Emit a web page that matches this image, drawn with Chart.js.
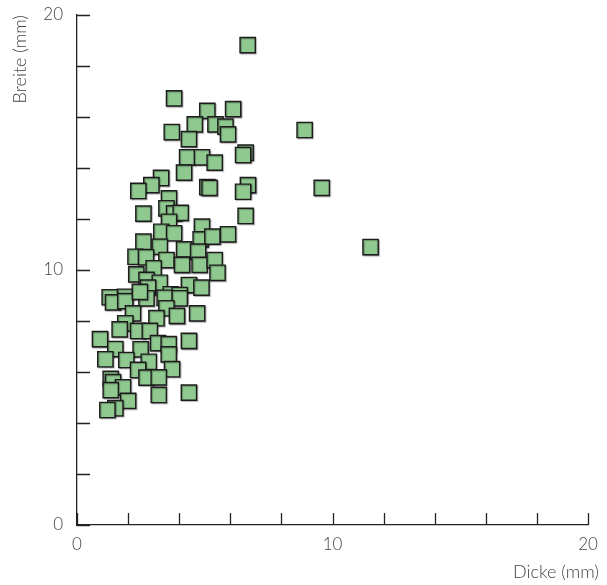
<!DOCTYPE html>
<html>
<head>
<meta charset="utf-8">
<title>Breite vs Dicke</title>
<script src="https://cdn.jsdelivr.net/npm/chart.js@4/dist/chart.umd.min.js"></script>
<style>
  html, body { margin: 0; padding: 0; background: #fff; }
  #wrap { width: 607px; height: 585px; }
</style>
</head>
<body>
<div id="wrap"><canvas id="myChart" width="607" height="585"></canvas></div>
<script>
'use strict';
// data (mm)
const dickeValues = [
  3.80, 5.10, 6.11, 4.61, 5.42, 5.81, 5.91, 3.71, 4.38, 6.60,
  6.50, 4.31, 4.89, 5.39, 4.19, 3.29, 2.91, 2.40, 5.10, 5.19,
  6.69, 6.50, 3.60, 2.60, 3.50, 3.80, 4.06, 3.60, 6.60, 4.89,
  3.30, 3.80, 2.60, 3.24, 4.84, 5.30, 5.91, 4.19, 4.74, 2.29,
  2.70, 3.50, 4.11, 4.80, 5.39, 5.50, 2.32, 3.00, 2.72, 3.24,
  2.78, 4.38, 4.87, 3.67, 4.02, 1.87, 1.28, 1.41, 1.89, 2.72,
  3.43, 4.02, 3.50, 2.19, 3.11, 3.91, 4.70, 1.89, 1.67, 2.39,
  2.85, 0.90, 3.17, 3.59, 4.38, 1.50, 2.49, 3.59, 1.93, 1.11,
  2.81, 3.72, 2.39, 2.72, 3.20, 1.32, 1.41, 1.80, 1.32, 2.00,
  3.20, 4.38, 1.50, 1.19, 2.46, 6.68, 8.91, 9.58, 11.49
];
const breiteValues = [
  16.73, 16.24, 16.31, 15.71, 15.71, 15.62, 15.32, 15.41, 15.13, 14.60,
  14.51, 14.42, 14.42, 14.21, 13.82, 13.61, 13.33, 13.10, 13.25, 13.22,
  13.33, 13.07, 12.81, 12.21, 12.42, 12.22, 12.24, 11.89, 12.12, 11.70,
  11.50, 11.44, 11.11, 10.91, 11.20, 11.31, 11.40, 10.81, 10.72, 10.52,
  10.50, 10.39, 10.20, 10.20, 10.39, 9.89, 9.83, 10.07, 9.61, 9.50,
  9.31, 9.41, 9.31, 9.05, 9.02, 8.95, 8.93, 8.73, 8.78, 8.89,
  8.91, 8.89, 8.50, 8.30, 8.11, 8.20, 8.30, 7.91, 7.67, 7.61,
  7.61, 7.29, 7.13, 7.09, 7.22, 6.90, 6.89, 6.69, 6.47, 6.50,
  6.40, 6.11, 6.08, 5.78, 5.79, 5.73, 5.60, 5.40, 5.29, 4.87,
  5.10, 5.19, 4.58, 4.51, 9.14, 18.82, 15.49, 13.22, 10.90
];
const tickLabels = [0, 10, 20]; // only these ticks get a label
const xTitle = 'Dicke (mm)';
const yTitle = 'Breite (mm)';

const textFont = { family: 'Lato', size: 17, weight: '300' };
const titleFont = { family: 'Lato', size: 18, weight: '300' };
const textColor = '#444';

// build the point list
const points = [];
for (let i = 0; i < dickeValues.length; i++) {
  points.push({ x: dickeValues[i], y: breiteValues[i] });
}

// short tick marks drawn inside the plot area, plus the x title
const innerTicks = {
  id: 'innerTicks',
  afterDraw(chart) {
    const ctx = chart.ctx;
    const xs = chart.scales.x;
    const ys = chart.scales.y;
    ctx.save();
    ctx.strokeStyle = '#222';
    ctx.lineWidth = 1.3;
    ctx.beginPath();
    xs.ticks.forEach(function (t) {
      const px = Math.round(xs.getPixelForValue(t.value)) + 0.5;
      ctx.moveTo(px, ys.bottom);
      ctx.lineTo(px, ys.bottom - 12);
    });
    ys.ticks.forEach(function (t) {
      const py = Math.round(ys.getPixelForValue(t.value)) + 0.5;
      ctx.moveTo(xs.left, py);
      ctx.lineTo(xs.left + 13, py);
    });
    ctx.stroke();

    // x title sits a bit past the end of the axis
    ctx.fillStyle = textColor;
    ctx.font = titleFont.weight + ' ' + titleFont.size + 'px ' + titleFont.family;
    ctx.textAlign = 'right';
    ctx.textBaseline = 'middle';
    ctx.fillText(xTitle, xs.right + 11, 572);
    ctx.restore();
  }
};

// faint shadow behind the squares
const pointShadow = {
  id: 'pointShadow',
  beforeDatasetsDraw(chart) {
    const ctx = chart.ctx;
    ctx.save();
    ctx.shadowColor = 'rgba(0, 0, 0, 0.3)';
    ctx.shadowOffsetX = 1;
    ctx.shadowOffsetY = 1;
    ctx.shadowBlur = 1;
  },
  afterDatasetsDraw(chart) {
    chart.ctx.restore();
  }
};

function tickCallback(value) {
  return tickLabels.includes(value) ? String(value) : '';
}

const ctx = document.getElementById('myChart').getContext('2d');
new Chart(ctx, {
  type: 'scatter',
  data: {
    datasets: [
      {
        label: 'Breite',
        data: points,
        pointStyle: 'rect',
        pointRadius: 10.8,
        pointHoverRadius: 10.8,
        backgroundColor: 'rgb(143, 201, 143)',
        borderColor: '#1c1c1c',
        borderWidth: 1.4,
      },
    ],
  },
  options: {
    responsive: false,
    animation: false,
    events: [],
    layout: { padding: { left: 0, right: 19, top: 15, bottom: 0 } },
    plugins: {
      legend: { display: false },
      tooltip: { enabled: false },
    },
    scales: {
      x: {
        type: 'linear',
        min: 0,
        max: 20,
        grid: { display: false, drawTicks: false },
        border: { display: true, color: '#222', width: 1.3 },
        ticks: {
          stepSize: 2,
          autoSkip: false,
          maxRotation: 0,
          padding: 9,
          color: textColor,
          font: textFont,
          callback: tickCallback,
        },
        title: { display: false },
        afterFit(scale) {
          scale.height = 60;
          scale.paddingLeft = 0;
          scale.paddingRight = 0;
        },
      },
      y: {
        type: 'linear',
        min: 0,
        max: 20,
        grid: { display: false, drawTicks: false },
        border: { display: true, color: '#222', width: 1.3 },
        ticks: {
          stepSize: 2,
          autoSkip: false,
          padding: 14,
          color: textColor,
          font: textFont,
          callback: tickCallback,
        },
        title: {
          display: true,
          text: yTitle,
          align: 'end',
          color: textColor,
          font: titleFont,
          padding: { top: 9, bottom: 0 },
        },
        afterFit(scale) {
          scale.width = 77;
          scale.paddingTop = 0;
          scale.paddingBottom = 0;
        },
      },
    },
  },
  plugins: [innerTicks, pointShadow],
});
</script>
</body>
</html>
